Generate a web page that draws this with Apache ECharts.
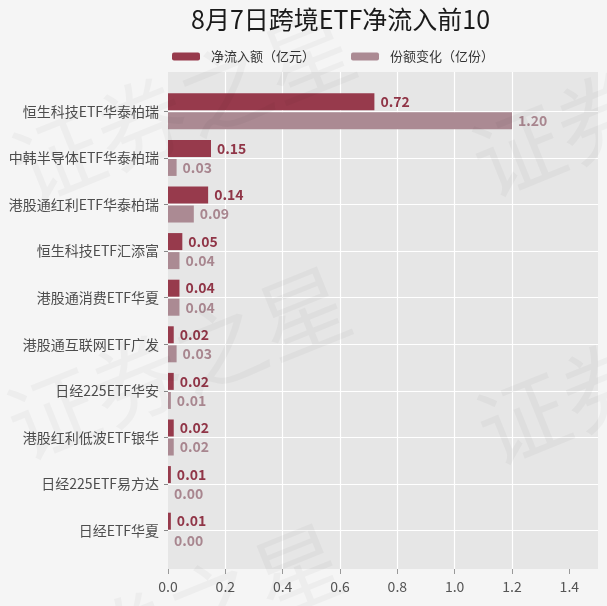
<!DOCTYPE html>
<html>
<head>
<meta charset="utf-8">
<script src="https://cdn.jsdelivr.net/npm/echarts@6/dist/echarts.min.js"></script>
<style>
html,body{margin:0;padding:0;background:#f5f5f5;}
#main{width:607px;height:606px;}
</style>
</head>
<body>
<div id="main"></div>
<script>
const titleText = '8月7日跨境ETF净流入前10';
const categories = ['恒生科技ETF华泰柏瑞','中韩半导体ETF华泰柏瑞','港股通红利ETF华泰柏瑞','恒生科技ETF汇添富','港股通消费ETF华夏','港股通互联网ETF广发','日经225ETF华安','港股红利低波ETF银华','日经225ETF易方达','日经ETF华夏'];
const seriesNames = ['净流入额（亿元）','份额变化（亿份）'];
const netInflow = [0.72,0.15,0.14,0.05,0.04,0.02,0.02,0.02,0.01,0.01];
const shareChange = [1.20,0.03,0.09,0.04,0.04,0.03,0.01,0.02,0.00,0.00];
const xTicks = [0,0.2,0.4,0.6,0.8,1.0,1.2,1.4];
const watermarkText = '证券之星';

const FONT = '"Noto Sans CJK SC","Noto Sans",sans-serif';
const C1 = '#973a4c', C2 = '#ab8a93';
const L1 = '#903547', L2 = '#a8868f';

const chart = echarts.init(document.getElementById('main'), null, {renderer:'canvas'});

const wmPos = [[183,106],[178,363],[173,620],[643,100],[648,368]];
const watermark = wmPos.map(p => ({
  type:'text', x:p[0], y:p[1], rotation:0.384, z:100, silent:true,
  style:{text:watermarkText, fontSize:90, fontFamily:FONT, fill:'rgba(0,0,0,0.03)', align:'center', verticalAlign:'middle'}
}));

const option = {
  backgroundColor:'#f5f5f5',
  animation:false,
  textStyle:{fontFamily:FONT},
  title:{text:titleText, left:191, top:7, padding:0,
    textStyle:{fontFamily:FONT, fontSize:25, fontWeight:'normal', color:'#1a1a1a'}},
  legend:{data:seriesNames, left:172, top:50, padding:0, itemWidth:28, itemHeight:8, itemGap:36,
    textStyle:{fontFamily:FONT, fontSize:13, color:'#333', padding:[0,0,0,6]}},
  graphic: watermark,
  grid:[
    {left:168, right:9, top:72, bottom:37, show:true, backgroundColor:'#e6e6e6', borderWidth:0},
    {left:168, right:9, top:88, bottom:52, show:false}
  ],
  xAxis:[
    {gridIndex:0, type:'value', min:0, max:1.5, interval:0.2,
      axisLine:{show:false},
      axisTick:{show:true, length:5, lineStyle:{color:'#999'}, customValues:xTicks},
      axisLabel:{color:'#555', fontSize:14, margin:11, customValues:xTicks, formatter:v=>v.toFixed(1)},
      splitLine:{show:true, showMinLine:false, showMaxLine:false, lineStyle:{color:'#ffffff', width:1.2}}},
    {gridIndex:1, type:'value', min:0, max:1.5, show:false}
  ],
  yAxis:[
    {gridIndex:0, type:'value', show:false, splitLine:{show:false}},
    {gridIndex:1, type:'category', inverse:true, data:categories,
      axisLine:{show:false},
      axisTick:{show:true, alignWithLabel:true, length:4, lineStyle:{color:'#888'}},
      axisLabel:{color:'#4d4d4d', fontSize:14, margin:9},
      splitLine:{show:false}}
  ],
  series:[
    {name:'grid-lines', type:'line', xAxisIndex:1, yAxisIndex:1, data:[], z:1, silent:true,
      markLine:{symbol:'none', silent:true, animation:false, label:{show:false},
        lineStyle:{color:'#ffffff', width:1.2, type:'solid'},
        emphasis:{disabled:true},
        data:categories.map(c=>({yAxis:c}))}},
    {name:seriesNames[0], type:'bar', xAxisIndex:1, yAxisIndex:1, data:netInflow, barWidth:17, barGap:'12%', z:2,
      itemStyle:{color:C1},
      label:{show:true, position:'right', distance:6, color:L1, fontSize:14, fontWeight:'bold', fontFamily:FONT, formatter:p=>p.value.toFixed(2)}},
    {name:seriesNames[1], type:'bar', xAxisIndex:1, yAxisIndex:1, data:shareChange, barWidth:17, barGap:'12%', z:2,
      itemStyle:{color:C2},
      label:{show:true, position:'right', distance:6, color:L2, fontSize:14, fontWeight:'bold', fontFamily:FONT, formatter:p=>p.value.toFixed(2)}}
  ]
};
chart.setOption(option);
</script>
</body>
</html>
